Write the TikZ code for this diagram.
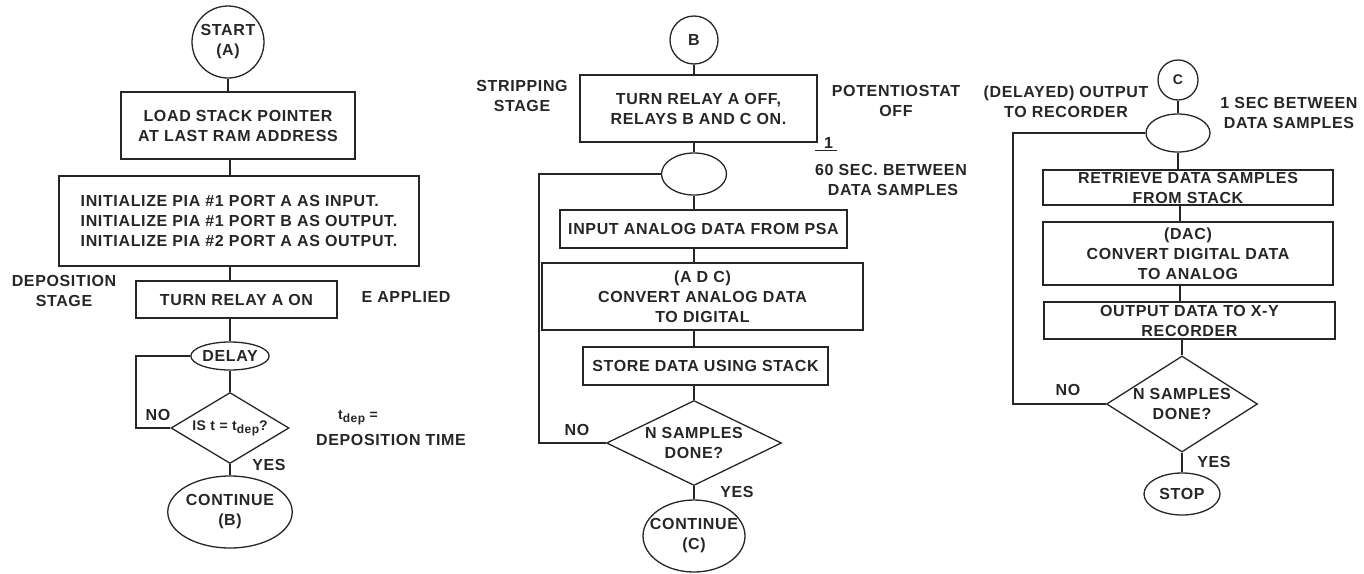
\documentclass[tikz,border=0pt]{standalone}
\usepackage{fontspec}
\setmainfont{Liberation Sans}[LetterSpace=4]
\usetikzlibrary{shapes.geometric}
\newcommand{\lbl}{\fontsize{16}{20}\selectfont\bfseries}
\newcommand{\lbltight}{\fontsize{16}{17.5}\selectfont\bfseries}
\newcommand{\sub}[1]{\raisebox{-0.4ex}{\fontsize{12}{12}\selectfont #1}}
\begin{document}
\begin{tikzpicture}[x=1pt,y=-1pt,
  every node/.style={font=\lbl, text=black!85},
  ln/.style={line width=1.3pt, draw=black!85},
  procbox/.style={draw=black!85, line width=1.3pt, rectangle, align=center, inner sep=0pt},
  term/.style={draw=black!85, line width=1.3pt, ellipse, align=center, inner sep=0pt},
  conn/.style={draw=black!85, line width=1.3pt, circle, align=center, inner sep=0pt},
  decide/.style={draw=black!85, line width=1.3pt, diamond, align=center, inner sep=0pt},
  note/.style={align=center, inner sep=0pt}
]
\useasboundingbox (0,0) rectangle (1364,573);

% ---------------- left column ----------------
\coordinate (sA) at (230,0);
\node[conn, minimum size=72pt] (start) at (228,42) {START\\(A)};
\node[procbox, minimum width=234pt, minimum height=67pt] (b1) at (238,125.5) {LOAD STACK POINTER\\AT LAST RAM ADDRESS};
\node[procbox, minimum width=360pt, minimum height=90pt, align=left] (b2) at (239,221)
  {INITIALIZE PIA \#1 PORT A AS INPUT.\\INITIALIZE PIA \#1 PORT B AS OUTPUT.\\INITIALIZE PIA \#2 PORT A AS OUTPUT.};
\node[procbox, minimum width=201pt, minimum height=37pt] (b3) at (236.5,299.5) {TURN RELAY A ON};
\node[term, minimum width=74pt, minimum height=28pt] (delay) at (230,356) {DELAY};
\node[decide, shape aspect=1.66, minimum width=118pt, minimum height=71pt] (d1) at (230,428)
  {\fontsize{14}{16}\selectfont\bfseries IS t = t\sub{dep}?};
\node[term, minimum width=122pt, minimum height=72pt] (contB) at (230,512) {CONTINUE\\(B)};
\coordinate (lA) at (136,428);

\draw[ln] (start.south) -- (start.south |- b1.north);
\draw[ln] (b1.south -| sA) -- (b2.north -| sA);
\draw[ln] (b2.south -| sA) -- (b3.north -| sA);
\draw[ln] (b3.south -| sA) -- (delay.north);
\draw[ln] (delay.south) -- (d1.north);
\draw[ln] (d1.south) -- (contB.north);
\draw[ln] (delay.west) -| (lA) -- (d1.west);

\node[note] (depst) at (64,291) {DEPOSITION\\STAGE};
\node[note] (eapp) at (406,297) {E APPLIED};
\node[note] (noA) at (158,415) {NO};
\node[note] (yesA) at (269,465) {YES};
\node[note] (tdep) at (358,418) {\fontsize{14}{16}\selectfont\bfseries t\sub{dep} =};
\node[note] (deptime) at (391,440) {DEPOSITION TIME};

% ---------------- middle column ----------------
\coordinate (sB) at (694,0);
\node[conn, minimum size=48pt] (cB) at (694,40) {B};
\node[procbox, minimum width=237pt, minimum height=67pt] (m1) at (698.5,108.5) {TURN RELAY A OFF,\\RELAYS B AND C ON.};
\node[term, minimum width=65pt, minimum height=42pt] (e1) at (694,174) {};
\node[procbox, minimum width=287pt, minimum height=38pt] (m2) at (703.5,229) {INPUT ANALOG DATA FROM PSA};
\node[procbox, minimum width=321pt, minimum height=67pt] (m3) at (702.5,296.5) {(A D C)\\CONVERT ANALOG DATA\\TO DIGITAL};
\node[procbox, minimum width=245pt, minimum height=38pt] (m4) at (705.5,366) {STORE DATA USING STACK};
\node[decide, shape aspect=2.06, minimum width=175pt, minimum height=85pt] (d2) at (694,443) {N SAMPLES\\DONE?};
\node[term, inner xsep=-8pt, minimum width=102pt, minimum height=72pt] (contC) at (694,536) {CONTINUE\\(C)};
\coordinate (lB) at (539,443);

\draw[ln] (cB.south) -- (cB.south |- m1.north);
\draw[ln] (m1.south -| sB) -- (e1.north);
\draw[ln] (e1.south) -- (e1.south |- m2.north);
\draw[ln] (m2.south -| sB) -- (m3.north -| sB);
\draw[ln] (m3.south -| sB) -- (m4.north -| sB);
\draw[ln] (d2.north) -- (d2.north |- m4.south);
\draw[ln] (d2.south) -- (contC.north);
\draw[ln] (e1.west) -| (lB) -- (d2.west);

\node[note] (strip) at (522,96) {STRIPPING\\STAGE};
\node[note] (pot) at (896,101) {POTENTIOSTAT\\OFF};
\node[note, anchor=west] (frac) at (815,144) {\underline{\makebox[22pt][l]{\hspace*{9pt}1}}};
\node[note] (secB) at (891,170) {60 SEC. BETWEEN};
\node[note] (dataB) at (893,190) {DATA SAMPLES};
\node[note] (noB) at (577,430) {NO};
\node[note] (yesB) at (737,492) {YES};

% ---------------- right column ----------------
\coordinate (sC) at (1180,0);
\node[conn, minimum size=40pt] (cC) at (1178,80) {\fontsize{14}{16}\selectfont\bfseries C};
\node[term, minimum width=64pt, minimum height=38pt] (e2) at (1178,133) {};
\node[procbox, minimum width=290pt, minimum height=35pt] (r1) at (1188,187.5) {\lbltight RETRIEVE DATA SAMPLES\\FROM STACK};
\node[procbox, minimum width=290pt, minimum height=63pt] (r2) at (1188,253.5) {\fontsize{16}{18.5}\selectfont\bfseries (DAC)\\CONVERT DIGITAL DATA\\TO ANALOG};
\node[procbox, minimum width=291pt, minimum height=37pt] (r3) at (1189.5,320.5) {\lbltight OUTPUT DATA TO X-Y\\RECORDER};
\node[decide, shape aspect=1.57, minimum width=151pt, minimum height=96pt] (d3) at (1182,404) {N SAMPLES\\DONE?};
\node[term, minimum width=76pt, minimum height=42pt] (stop) at (1182,494) {STOP};
\coordinate (lC) at (1013,404);

\draw[ln] (cC.south) -- (e2.north);
\draw[ln] (e2.south) -- (e2.south |- r1.north);
\draw[ln] (r1.south -| sC) -- (r2.north -| sC);
\draw[ln] (r2.south -| sC) -- (r3.north -| sC);
\draw[ln] (d3.north) -- (d3.north |- r3.south);
\draw[ln] (d3.south) -- (stop.north);
\draw[ln] (e2.west) -| (lC) -- (d3.west);

\node[note] (delayed) at (1066,102) {(DELAYED) OUTPUT\\TO RECORDER};
\node[note] (secC) at (1289,113) {1 SEC BETWEEN\\DATA SAMPLES};
\node[note] (noC) at (1068,390) {NO};
\node[note] (yesC) at (1214,462) {YES};
\end{tikzpicture}
\end{document}
